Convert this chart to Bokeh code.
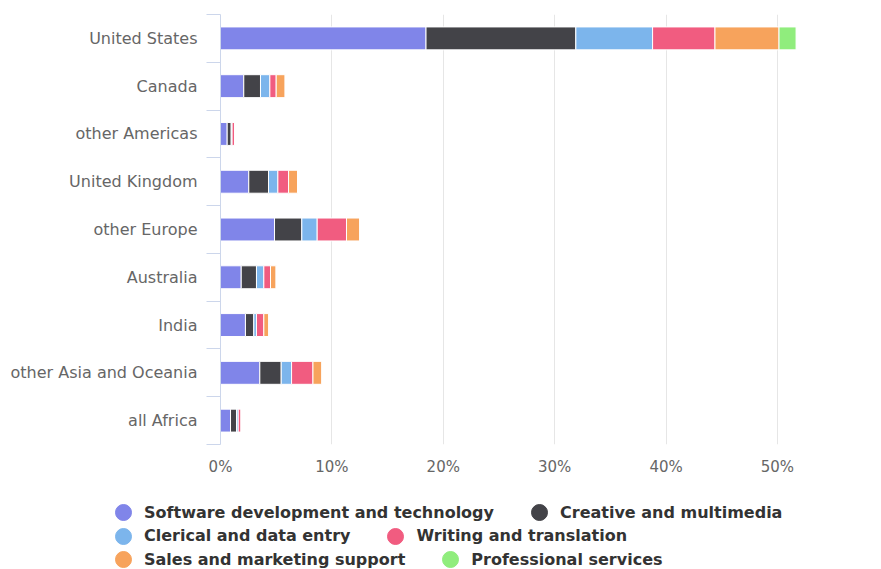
from bokeh.plotting import figure
from bokeh.layouts import column
from bokeh.models import (ColumnDataSource, Range1d, FixedTicker, PrintfTickFormatter,
                          Legend, LegendItem)
from bokeh.embed import file_html
from bokeh.resources import INLINE

regions = ["United States", "Canada", "other Americas", "United Kingdom", "other Europe",
           "Australia", "India", "other Asia and Oceania", "all Africa"]
series = ["Software development and technology", "Creative and multimedia",
          "Clerical and data entry", "Writing and translation",
          "Sales and marketing support", "Professional services"]
software = [18.45, 2.09, 0.60, 2.54, 4.85, 1.86, 2.24, 3.53, 0.90]
creative = [13.45, 1.50, 0.36, 1.77, 2.45, 1.37, 0.75, 1.92, 0.54]
clerical = [6.89, 0.84, 0.08, 0.84, 1.38, 0.66, 0.24, 0.93, 0.15]
writing = [5.60, 0.57, 0.25, 0.96, 2.63, 0.60, 0.66, 1.92, 0.27]
sales = [5.75, 0.81, 0.00, 0.81, 1.20, 0.51, 0.45, 0.81, 0.00]
professional = [1.53, 0.00, 0.00, 0.00, 0.00, 0.00, 0.00, 0.00, 0.00]
x_ticks = [0, 10, 20, 30, 40, 50, 60]
colors = ["#8085e9", "#434348", "#7cb5ec", "#f15c80", "#f7a35c", "#90ed7d"]

idx = list(range(len(regions)))
data = dict(idx=idx)
for name, vals in zip(series, [software, creative, clerical, writing, sales, professional]):
    data[name] = vals
source = ColumnDataSource(data)

p = figure(frame_width=660, frame_height=430, min_border_left=220, min_border_top=14,
           min_border_right=0, min_border_bottom=46,
           x_range=Range1d(0, 59.25), y_range=Range1d(len(regions) - 0.5, -0.5),
           output_backend="svg", toolbar_location=None, tools="")
p.outline_line_color = None
p.frame_align = False

p.hbar_stack(series, y="idx", height=0.48, color=colors, source=source,
             line_color="white", line_width=1)

# x axis
p.xaxis.ticker = FixedTicker(ticks=x_ticks)
p.xaxis.formatter = PrintfTickFormatter(format="%d%%")
p.xaxis.axis_line_color = None
p.xaxis.major_tick_line_color = None
p.xaxis.minor_tick_line_color = None
p.xaxis.major_label_text_font = "DejaVu Sans"
p.xaxis.major_label_text_font_size = "15px"
p.xaxis.major_label_text_color = "#666666"
p.xaxis.major_label_standoff = 7
p.xgrid.grid_line_color = "#e6e6e6"
p.ygrid.visible = False

# y axis
p.yaxis.ticker = FixedTicker(ticks=idx, minor_ticks=[i - 0.5 for i in range(len(regions) + 1)])
p.yaxis.major_label_overrides = {i: r for i, r in zip(idx, regions)}
p.yaxis.major_tick_line_color = None
p.yaxis.major_tick_out = 0
p.yaxis.minor_tick_out = 14
p.yaxis.minor_tick_in = 0
p.yaxis.minor_tick_line_color = "#ccd6eb"
p.yaxis.axis_line_color = "#ccd6eb"
p.yaxis.major_label_text_font = "DejaVu Sans"
p.yaxis.major_label_text_font_size = "16px"
p.yaxis.major_label_text_color = "#666666"
p.yaxis.major_label_standoff = 9

# legend area (circle markers, flow rows)
lf = figure(width=880, height=78, min_border=0, x_range=Range1d(0, 1), y_range=Range1d(0, 1),
            x_axis_location=None, y_axis_location=None, output_backend="svg",
            toolbar_location=None, tools="")
lf.outline_line_color = None
lf.frame_align = False
lf.xgrid.visible = False
lf.ygrid.visible = False
nan = float("nan")
markers = [lf.scatter(x=[nan], y=[nan], marker="circle", color=c) for c in colors]
rows = [(0, 1), (2, 3), (4, 5)]
row_offsets = [36, 12.5, -11]
for r, vy in zip(rows, row_offsets):
    leg = Legend(items=[LegendItem(label=series[i], renderers=[markers[i]]) for i in r],
                 orientation="horizontal", location=(103, vy),
                 glyph_width=40, glyph_height=40, label_standoff=1, spacing=25,
                 padding=0, margin=0, border_line_alpha=0, background_fill_alpha=0,
                 label_text_font="DejaVu Sans", label_text_font_size="16px",
                 label_text_font_style="bold", label_text_color="#333333")
    lf.add_layout(leg, "center")

layout = column(p, lf, spacing=0)
open("out.html", "w").write(file_html(layout, INLINE))
